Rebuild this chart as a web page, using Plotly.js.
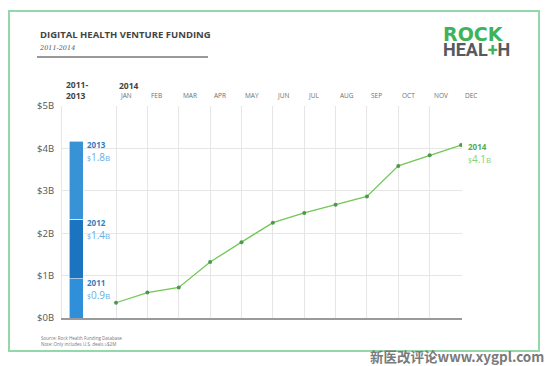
<!DOCTYPE html>
<html><head><meta charset="utf-8">
<script src="https://cdn.plot.ly/plotly-3.0.1.min.js"></script>
<style>html,body{margin:0;padding:0;background:#fff;}#chart{width:550px;height:366px;}</style>
</head><body><div id="chart"></div>
<script>
// ---- data ----
var months = ["JAN","FEB","MAR","APR","MAY","JUN","JUL","AUG","SEP","OCT","NOV","DEC"];
var funding2014 = [0.36, 0.60, 0.72, 1.32, 1.79, 2.25, 2.48, 2.67, 2.87, 3.59, 3.84, 4.08];
var priorYears = ["2011", "2012", "2013"];
var priorValues = [0.93, 1.4, 1.84];
var priorLabels = ["$0.9B", "$1.4B", "$1.8B"];
var total2014Label = "$4.1B";
var yTicks = [0, 1, 2, 3, 4, 5];
var yTickText = ["$0B", "$1B", "$2B", "$3B", "$4B", "$5B"];

// ---- layout helpers ----
var X0 = -1.722, X1 = 11.03;   // axis range (index units)
var barX = -1.27, barW = 0.45;
var PL = 62, PR = 462, PT = 106, PB = 318;
function px(x){ return (x - PL) / (PR - PL); }
function py(y){ return (PB - y) / (PB - PT); }

var monthIdx = months.map(function(m,i){return i;});
var barColors = ["#2f8fd8", "#1c74c0", "#3792d6"];

var traces = [];
priorYears.forEach(function(yr, i){
  traces.push({
    type: "bar", x: [barX], y: [priorValues[i]], width: [barW],
    marker: {color: barColors[i], line: {color: "#ffffff", width: 0.6}},
    hoverinfo: "skip", showlegend: false
  });
});
traces.push({
  type: "scatter", mode: "lines+markers", x: monthIdx, y: funding2014,
  line: {color: "#72c855", width: 1.3},
  marker: {color: "#4a9a4c", size: 4},
  hoverinfo: "skip", showlegend: false
});

var ann = [];
// month headers
months.forEach(function(m, i){
  ann.push({x: i, xref: "x", y: py(96), yref: "paper", text: m, showarrow: false,
    xanchor: "left", yanchor: "middle", xshift: 2,
    font: {family: "Open Sans", size: 6.5, color: "#6f6f6f"}});
});
ann.push({x: 0, xref: "x", y: py(85), yref: "paper", text: "<b>2014</b>", showarrow: false,
  xanchor: "left", yanchor: "middle", xshift: 1,
  font: {family: "Open Sans", size: 8.5, color: "#444"}});
ann.push({x: X0, xref: "x", y: py(90), yref: "paper", text: "<b>2011-<br>2013</b>", showarrow: false,
  xanchor: "left", yanchor: "middle", xshift: 2, align: "left",
  font: {family: "Open Sans", size: 8.5, color: "#444"}});
// bar labels
var cum = 0;
priorYears.forEach(function(yr, i){
  cum += priorValues[i];
  var v = priorLabels[i].replace("$","").replace("B","");
  ann.push({x: barX + barW/2, xref: "x", y: cum, yref: "y", showarrow: false,
    xanchor: "left", yanchor: "top", xshift: 2, yshift: 4, align: "left",
    text: "<b>" + yr + "</b>", font: {family: "Open Sans", size: 8, color: "#2f7fc0"}});
  ann.push({x: barX + barW/2, xref: "x", y: cum, yref: "y", showarrow: false,
    xanchor: "left", yanchor: "top", xshift: 2, yshift: -7, align: "left",
    text: "<span style='font-size:7px'>$</span>" + v + "<span style='font-size:8px'>B</span>",
    font: {family: "Open Sans", size: 10, color: "#6aaee0"}});
});
// 2014 end label
var last = funding2014.length - 1;
var tv = total2014Label.replace("$","").replace("B","");
ann.push({x: last, xref: "x", y: funding2014[last], yref: "y", showarrow: false,
  xanchor: "left", yanchor: "top", xshift: 5, yshift: 6, text: "<b>2014</b>",
  font: {family: "Open Sans", size: 8, color: "#4fae4f"}});
ann.push({x: last, xref: "x", y: funding2014[last], yref: "y", showarrow: false,
  xanchor: "left", yanchor: "top", xshift: 5, yshift: -5,
  text: "<span style='font-size:7px'>$</span>" + tv + "<span style='font-size:8px'>B</span>",
  font: {family: "Open Sans", size: 10, color: "#86cf7a"}});
// titles
ann.push({x: px(38), xref: "paper", y: py(34), yref: "paper", showarrow: false,
  xanchor: "left", yanchor: "middle",
  text: "<b>DIGITAL HEALTH VENTURE FUNDING</b>",
  font: {family: "Open Sans", size: 9.5, color: "#444"}});
ann.push({x: px(37), xref: "paper", y: py(48), yref: "paper", showarrow: false,
  xanchor: "left", yanchor: "middle", text: "<i>2011-2014</i>",
  font: {family: "DejaVu Serif", size: 6.5, color: "#555"}});
// logo (single text block, two lines)
ann.push({x: px(441), xref: "paper", y: py(41), yref: "paper", showarrow: false,
  xanchor: "left", yanchor: "middle", align: "left",
  text: "<span style='font-family:DejaVu Sans;font-size:19px;color:#3fb35b'><b>ROCK</b></span><br>" +
        "<span style='font-size:18px'><b>HEAL<span style='color:#3fb35b'>+</span>H</b></span>",
  font: {family: "Roboto", size: 11.5, color: "#58595b"}});
// notes
ann.push({x: px(39), xref: "paper", y: py(338), yref: "paper", showarrow: false,
  xanchor: "left", yanchor: "middle", text: "Source: Rock Health Funding Database",
  font: {family: "Open Sans", size: 4.5, color: "#777"}});
ann.push({x: px(39), xref: "paper", y: py(344), yref: "paper", showarrow: false,
  xanchor: "left", yanchor: "middle", text: "Note: Only includes U.S. deals \u2265$2M",
  font: {family: "Open Sans", size: 4.5, color: "#777"}});
// watermark
ann.push({x: px(546), xref: "paper", y: py(356), yref: "paper", showarrow: false,
  xanchor: "right", yanchor: "middle", text: "<b>新医改评论www.xygpl.com</b>",
  font: {family: "Noto Sans CJK SC", size: 13.5, color: "#7a7a7a"}});

var shapes = [
  {type: "rect", xref: "paper", yref: "paper", x0: px(9), x1: px(539), y0: py(11), y1: py(351),
   line: {color: "#93d8ab", width: 2}, layer: "below"},
  {type: "line", xref: "paper", yref: "paper", x0: px(37), x1: px(208), y0: py(57), y1: py(57),
   line: {color: "#999", width: 1.8}}
];

var layout = {
  width: 550, height: 366,
  margin: {l: PL, r: 550 - PR, t: PT, b: 366 - PB, pad: 0},
  paper_bgcolor: "#ffffff", plot_bgcolor: "#ffffff",
  barmode: "stack", bargap: 0,
  showlegend: false,
  xaxis: {range: [X0, X1], tickvals: monthIdx, showticklabels: false, ticks: "",
    showgrid: true, gridcolor: "#e6e6e6", gridwidth: 1, zeroline: false,
    showline: true, linecolor: "#9a9a9a", linewidth: 1.5, fixedrange: true},
  yaxis: {range: [0, 5.003], tickvals: yTicks, ticktext: yTickText,
    showgrid: true, gridcolor: "#e6e6e6", gridwidth: 1, zeroline: false,
    showline: true, linecolor: "#e6e6e6", linewidth: 1, ticks: "",
    ticklabelstandoff: 5,
    tickfont: {family: "Open Sans", size: 9.5, color: "#555"}, fixedrange: true},
  annotations: ann,
  shapes: shapes
};

Plotly.newPlot("chart", traces, layout, {staticPlot: true, displayModeBar: false});
</script>
</body></html>
